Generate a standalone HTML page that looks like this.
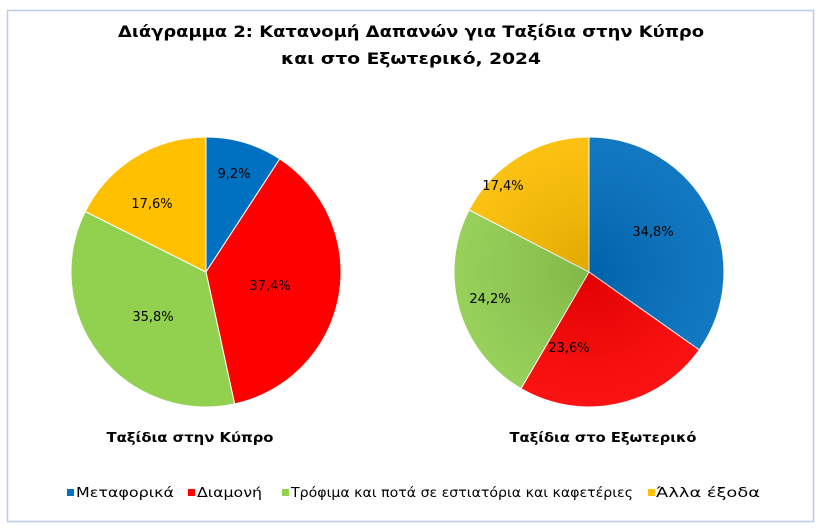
<!DOCTYPE html>
<html><head><meta charset="utf-8"><style>
html,body{margin:0;padding:0;background:#fff;}
svg{display:block;font-family:"DejaVu Sans","Liberation Sans",sans-serif;}
</style></head><body>
<svg width="822" height="531" viewBox="0 0 822 531" xmlns="http://www.w3.org/2000/svg">
<defs>
<radialGradient id="g2" cx="0.5" cy="0.5" r="0.6">
<stop offset="0" stop-color="#000" stop-opacity="0.12"/>
<stop offset="1" stop-color="#fff" stop-opacity="0.08"/>
</radialGradient>
</defs>
<rect x="7.5" y="10.5" width="806" height="511" fill="#fff" stroke="#B9CDE5" stroke-width="1.5"/>
<text x="411" y="37" text-anchor="middle" font-size="16" font-weight="bold" textLength="586" lengthAdjust="spacingAndGlyphs">Διάγραμμα 2: Κατανομή Δαπανών για Ταξίδια στην Κύπρο</text>
<text x="411" y="64" text-anchor="middle" font-size="16" font-weight="bold" textLength="260" lengthAdjust="spacingAndGlyphs">και στο Εξωτερικό, 2024</text>

<g stroke="#fff" stroke-width="1">
<path d="M206,272 L206,137 A135,135 0 0 1 279.8,158.9 Z" fill="#0070C0"/>
<path d="M206,272 L279.8,158.9 A135,135 0 0 1 234.6,403.9 Z" fill="#FF0000"/>
<path d="M206,272 L234.6,403.9 A135,135 0 0 1 85.3,211.5 Z" fill="#92D050"/>
<path d="M206,272 L85.3,211.5 A135,135 0 0 1 206,137 Z" fill="#FFC000"/>

<path d="M589,272 L589,137 A135,135 0 0 1 699.2,349.9 Z" fill="#0070C0"/>
<path d="M589,272 L699.2,349.9 A135,135 0 0 1 521.0,388.6 Z" fill="#FF0000"/>
<path d="M589,272 L521.0,388.6 A135,135 0 0 1 469.1,209.9 Z" fill="#92D050"/>
<path d="M589,272 L469.1,209.9 A135,135 0 0 1 589,137 Z" fill="#FFC000"/>
</g>
<circle cx="589" cy="272" r="135" fill="url(#g2)"/>

<g font-size="13" text-anchor="middle" fill="#000">
<text x="234" y="178">9,2%</text>
<text x="270" y="290">37,4%</text>
<text x="153" y="321">35,8%</text>
<text x="152" y="208">17,6%</text>
<text x="653" y="236">34,8%</text>
<text x="569" y="352">23,6%</text>
<text x="490" y="303">24,2%</text>
<text x="503" y="190">17,4%</text>
</g>

<g font-size="13" font-weight="bold" text-anchor="middle">
<text x="190" y="442" textLength="167" lengthAdjust="spacingAndGlyphs">Ταξίδια στην Κύπρο</text>
<text x="603" y="442" textLength="187" lengthAdjust="spacingAndGlyphs">Ταξίδια στο Εξωτερικό</text>
</g>

<g font-size="13">
<rect x="67" y="489" width="7" height="7" fill="#0070C0"/>
<text x="76" y="497" textLength="98" lengthAdjust="spacingAndGlyphs">Μεταφορικά</text>
<rect x="188" y="489" width="7" height="7" fill="#FF0000"/>
<text x="197" y="497" textLength="65" lengthAdjust="spacingAndGlyphs">Διαμονή</text>
<rect x="282" y="489" width="7" height="7" fill="#92D050"/>
<text x="291" y="497" textLength="342" lengthAdjust="spacingAndGlyphs">Τρόφιμα και ποτά σε εστιατόρια και καφετέριες</text>
<rect x="648" y="489" width="7" height="7" fill="#FFC000"/>
<text x="656" y="497" textLength="104" lengthAdjust="spacingAndGlyphs">Άλλα έξοδα</text>
</g>
</svg>
</body></html>
